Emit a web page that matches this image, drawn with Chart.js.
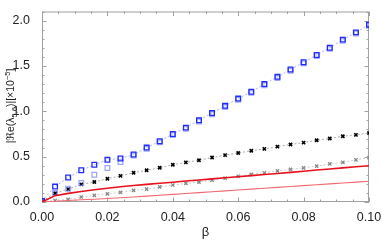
<!DOCTYPE html>
<html><head><meta charset="utf-8">
<script src="https://cdn.jsdelivr.net/npm/chart.js@4"></script>
<style>html,body{margin:0;padding:0;background:#fff}#wrap{width:382px;height:240px}</style>
</head><body><div id="wrap"><canvas id="c" width="382" height="240"></canvas></div>
<script>
const beta = [0,0.004,0.008,0.012,0.016,0.020,0.024,0.028,0.032,0.036,0.040,0.044,0.048,0.052,0.056,0.060,0.064,0.068,0.072,0.076,0.080,0.084,0.088,0.092,0.096,0.100];
const blueDark = [0.012,0.17,0.27,0.35,0.41,0.465,0.48,0.523,0.60,0.67,0.75,0.82,0.90,0.98,1.06,1.14,1.215,1.30,1.38,1.46,1.54,1.62,1.70,1.79,1.87,1.955];
const blueLight = [0.012,0.10,0.145,0.21,0.30,0.375,0.44,0.512,0.588,0.658,0.738,0.808,0.888,0.968,1.048,1.128,1.203,1.288,1.368,1.448,1.528,1.608,1.688,1.778,1.858,1.943];
const blackX = [0.01,0.097,0.142,0.194,0.22,0.257,0.288,0.322,0.35,0.377,0.41,0.437,0.46,0.49,0.517,0.54,0.565,0.585,0.61,0.634,0.655,0.68,0.70,0.725,0.74,0.76];
const grayX = [0.005,0.015,0.028,0.055,0.073,0.09,0.107,0.128,0.142,0.166,0.187,0.205,0.22,0.242,0.263,0.284,0.305,0.322,0.343,0.36,0.377,0.395,0.42,0.437,0.465,0.49];
const redThick = [0,0.07,0.095,0.115,0.135,0.152,0.168,0.182,0.194,0.206,0.218,0.231,0.243,0.255,0.267,0.279,0.291,0.303,0.315,0.327,0.339,0.352,0.364,0.376,0.388,0.40];
const redThin = [0,0.008,0.016,0.024,0.031,0.039,0.047,0.055,0.065,0.074,0.084,0.094,0.103,0.113,0.123,0.132,0.142,0.152,0.161,0.171,0.181,0.19,0.2,0.21,0.219,0.229];
const xTicks = [0,0.02,0.04,0.06,0.08,0.10];
const yTicks = [0,0.5,1.0,1.5,2.0];

const pts = arr => arr.map((v,i)=>({x:beta[i], y:v}));
const FONT = "'Liberation Sans', Arial, 'DejaVu Sans', sans-serif";

const framePlugin = {
  id:'frame',
  beforeDatasetsDraw(chart){
    const {ctx, chartArea:a, scales:{x,y}} = chart;
    ctx.save();
    ctx.strokeStyle = '#a0a0a0';
    ctx.lineWidth = 1;
    ctx.strokeRect(a.left+0.5, a.top+0.5, a.right-a.left-1, a.bottom-a.top-1);
    ctx.beginPath();
    for(let i=0;i<=20;i++){
      const v=i*0.005, px=Math.round(x.getPixelForValue(v))+0.5, L=(i%4===0)?4.5:2.5;
      ctx.moveTo(px,a.bottom); ctx.lineTo(px,a.bottom-L);
      ctx.moveTo(px,a.top); ctx.lineTo(px,a.top+L);
    }
    for(let i=0;i<=21;i++){
      const v=i*0.1, py=Math.round(y.getPixelForValue(v))+0.5, L=(i%5===0)?4.5:2.5;
      ctx.moveTo(a.left,py); ctx.lineTo(a.left+L,py);
      ctx.moveTo(a.right,py); ctx.lineTo(a.right-L,py);
    }
    ctx.stroke();
    ctx.restore();
  }
};

const ytitlePlugin = {
  id:'ytitle',
  afterDraw(chart){
    const ctx = chart.ctx;
    const parts = [
      {t:'|\u211Ce(\u03BB', s:10.5, dy:0},
      {t:'5,6', s:7.5, dy:2.5},
      {t:')|[\u00D710', s:10.5, dy:0},
      {t:'\u22125', s:7.5, dy:-4.5},
      {t:']', s:10.5, dy:0}
    ];
    ctx.save();
    let total=0;
    parts.forEach(p=>{ctx.font=p.s+'px '+FONT; p.w=ctx.measureText(p.t).width; total+=p.w;});
    ctx.translate(14, 106);
    ctx.rotate(-Math.PI/2);
    ctx.fillStyle='#222';
    ctx.textBaseline='alphabetic';
    let xx=-total/2;
    parts.forEach(p=>{ctx.font=p.s+'px '+FONT; ctx.fillText(p.t, xx, p.dy); xx+=p.w;});
    ctx.restore();
  }
};

new Chart(document.getElementById('c'), {
  type:'line',
  data:{datasets:[
    {label:'blueDark', data:pts(blueDark), borderColor:'rgba(160,170,255,0.9)', borderWidth:1, borderDash:[2,2],
     pointStyle:'rect', pointRadius:3.3, pointBorderWidth:1.3, pointBorderColor:'#1f2bff', pointBackgroundColor:'rgba(0,0,0,0)', order:1},
    {label:'blueLight', data:pts(blueLight), showLine:false,
     pointStyle:'rect', pointRadius:3.3, pointBorderWidth:1.3, pointBorderColor:'rgba(120,130,255,0.7)', pointBackgroundColor:'rgba(0,0,0,0)', order:2},
    {label:'blackX', data:pts(blackX), borderColor:'rgba(150,150,150,0.8)', borderWidth:1, borderDash:[2,2],
     pointStyle:'crossRot', pointRadius:2.3, pointBorderWidth:1.6, pointBorderColor:'#000', order:3},
    {label:'grayX', data:pts(grayX), borderColor:'rgba(190,190,190,0.8)', borderWidth:1, borderDash:[2,2],
     pointStyle:'crossRot', pointRadius:2.3, pointBorderWidth:1.3, pointBorderColor:'#888', order:4},
    {label:'redThick', data:pts(redThick), borderColor:'#e8101c', borderWidth:1.6, pointRadius:0, order:0},
    {label:'redThin', data:pts(redThin), borderColor:'#f06a70', borderWidth:1.1, pointRadius:0, order:0}
  ]},
  options:{
    responsive:false, animation:false, devicePixelRatio:1,
    layout:{padding:{top:1,right:13,left:0,bottom:0}},
    plugins:{legend:{display:false}, tooltip:{enabled:false}},
    scales:{
      x:{type:'linear', min:0, max:0.1,
        afterBuildTicks:s=>{s.ticks=xTicks.map(v=>({value:v}));},
        afterFit:s=>{s.height=38;},
        grid:{display:false}, border:{display:false},
        ticks:{padding:0, color:'#222', font:{family:FONT,size:12.5}, maxRotation:0, callback:v=>v.toFixed(2)},
        title:{display:true, text:'\u03B2', color:'#222', font:{family:FONT,size:13}, padding:{top:0,bottom:0}}
      },
      y:{type:'linear', min:0, max:2.1,
        afterBuildTicks:s=>{s.ticks=yTicks.map(v=>({value:v}));},
        afterFit:s=>{s.width=42;},
        grid:{display:false}, border:{display:false},
        ticks:{padding:4, color:'#222', font:{family:FONT,size:12.5}, callback:v=>v.toFixed(1)}
      }
    }
  },
  plugins:[framePlugin, ytitlePlugin]
});
</script></body></html>
